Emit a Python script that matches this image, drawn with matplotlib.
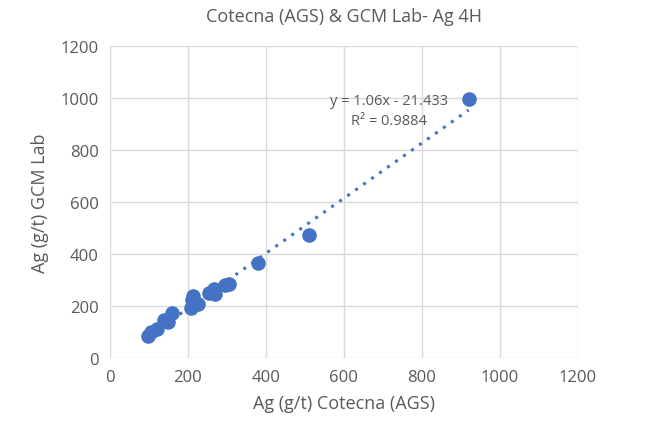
import numpy as np
import matplotlib.pyplot as plt

plt.rcParams['font.family'] = ['Open Sans', 'DejaVu Sans']

# Ag (g/t): Cotecna (AGS) vs GCM Lab
cotecna = [97, 105, 120, 140, 148, 160, 208, 210, 212, 225, 255, 268, 270, 295, 305, 380, 510, 920]
gcm_lab = [85, 100, 112, 148, 140, 172, 192, 222, 238, 207, 250, 265, 245, 280, 285, 367, 472, 995]

slope = 1.06
intercept = -21.433
eq_label = 'y = 1.06x - 21.433\nR² = 0.9884'

blue = '#4472C4'
grey = '#595959'

fig = plt.figure(figsize=(6.5, 4.39), dpi=100)
ax = fig.add_axes([0.169, 0.182, 0.72, 0.711])

xs = np.array([min(cotecna), max(cotecna)])
ax.plot(xs, slope * xs + intercept, color=blue, linestyle=(0, (1, 2.2)), linewidth=2.2, zorder=2)
ax.scatter(cotecna, gcm_lab, s=110, color=blue, zorder=3, linewidths=0)

ax.set_xlim(0, 1200)
ax.set_ylim(0, 1200)
ax.set_xticks(range(0, 1201, 200))
ax.set_yticks(range(0, 1201, 200))
ax.grid(True, color='#D9D9D9', linewidth=1)
ax.set_axisbelow(True)
for s in ax.spines.values():
    s.set_visible(False)
ax.tick_params(length=0, labelsize=12, colors=grey, pad=8)

ax.set_xlabel('Ag (g/t) Cotecna (AGS)', fontsize=13, color=grey, labelpad=6)
ax.set_ylabel('Ag (g/t) GCM Lab', fontsize=13, color=grey, labelpad=8)
ax.set_title('Cotecna (AGS) & GCM Lab- Ag 4H', fontsize=13, color=grey, pad=18)

ax.text(715, 1020, eq_label, fontsize=10.5, color=grey, ha='center', va='top', linespacing=1.5)

fig.savefig('out.png', dpi=100)
